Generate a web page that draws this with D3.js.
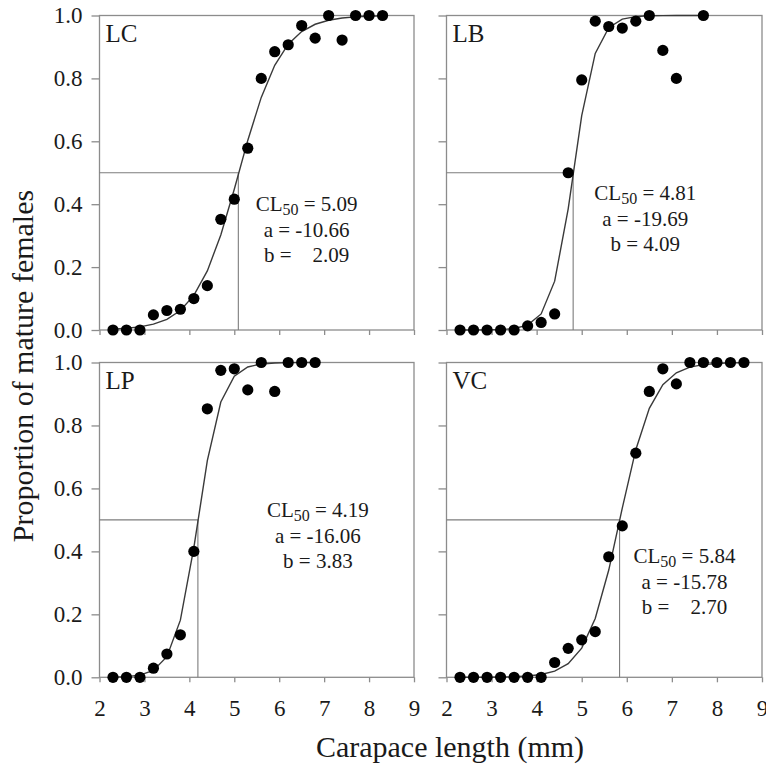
<!DOCTYPE html>
<html lang="en">
<head>
<meta charset="UTF-8">
<title>maturity-ogives</title>
<style>
    body {
        margin: 0;
        background: #fff;
    }
</style>
<script src="https://d3js.org/d3.v7.min.js"></script>
</head>
<body>
<script>

    // values
    let sites = ["LC", "LB", "LP", "VC"];
    let cl50 = [5.09, 4.81, 4.19, 5.84];
    let aVals = [-10.66, -19.69, -16.06, -15.78];
    let bVals = [2.09, 4.09, 3.83, 2.70];
    let bPad = [true, false, false, true];

    let xTicks = [2, 3, 4, 5, 6, 7, 8, 9];
    let yTicks = [0, 0.2, 0.4, 0.6, 0.8, 1.0];

    let lcX = [2.3, 2.6, 2.9, 3.2, 3.5, 3.8, 4.1, 4.4, 4.7, 5.0, 5.3, 5.6, 5.9, 6.2, 6.5, 6.8, 7.1, 7.4, 7.7, 8.0, 8.3];
    let lcY = [0, 0, 0, 0.048, 0.062, 0.066, 0.10, 0.141, 0.352, 0.416, 0.578, 0.80, 0.885, 0.907, 0.968, 0.928, 1.0, 0.922, 1.0, 1.0, 1.0];

    let lbX = [2.3, 2.6, 2.9, 3.2, 3.5, 3.8, 4.1, 4.4, 4.7, 5.0, 5.3, 5.6, 5.9, 6.2, 6.5, 6.8, 7.1, 7.7];
    let lbY = [0, 0, 0, 0, 0, 0.013, 0.024, 0.051, 0.50, 0.795, 0.982, 0.965, 0.96, 0.982, 1.0, 0.889, 0.80, 1.0];

    let lpX = [2.3, 2.6, 2.9, 3.2, 3.5, 3.8, 4.1, 4.4, 4.7, 5.0, 5.3, 5.6, 5.9, 6.2, 6.5, 6.8];
    let lpY = [0, 0, 0, 0.029, 0.074, 0.135, 0.40, 0.853, 0.975, 0.98, 0.913, 1.0, 0.908, 1.0, 1.0, 1.0];

    let vcX = [2.3, 2.6, 2.9, 3.2, 3.5, 3.8, 4.1, 4.4, 4.7, 5.0, 5.3, 5.6, 5.9, 6.2, 6.5, 6.8, 7.1, 7.4, 7.7, 8.0, 8.3, 8.6];
    let vcY = [0, 0, 0, 0, 0, 0, 0, 0.047, 0.092, 0.119, 0.145, 0.383, 0.481, 0.712, 0.908, 0.98, 0.932, 1.0, 1.0, 1.0, 1.0, 1.0];

    let seriesX = [lcX, lbX, lpX, vcX];
    let seriesY = [lcY, lbY, lpY, vcY];

    // layout
    let width = 766;
    let height = 770;
    let cols = [[99.5, 414], [446.5, 762]];
    let rows = [[330, 15.5], [677.3, 362.5]];
    // where the parameter block sits, in data units of each panel
    let annoPos = [[6.61, 0.378], [6.41, 0.413], [6.86, 0.509], [7.28, 0.363]];
    let lineGap = 25.5;

    let serif = "'Times New Roman', 'Liberation Serif', Times, serif";
    let textColor = "#1a1a1a";
    let frameColor = "#8c8c8c";
    let refColor = "#7d7d7d";
    let curveColor = "#3a3a3a";

    let svg = d3.select("body").append("svg")
        .attr("width", width)
        .attr("height", height)
        .style("font-family", serif);

    let logistic = function (a, b) {
        return function (x) { return 1 / (1 + Math.exp(-(a + b * x))); };
    };

    sites.forEach(function (site, i) {
        let col = i % 2;
        let row = Math.floor(i / 2);

        let x = d3.scaleLinear().domain([2, 9]).range(cols[col]);
        let y = d3.scaleLinear().domain([0, 1]).range(rows[row]);

        let g = svg.append("g");

        // x axis
        let xa = g.append("g")
            .attr("transform", "translate(0," + y(0) + ")")
            .call(d3.axisBottom(x)
                .tickValues(xTicks)
                .tickSize(5)
                .tickSizeOuter(0)
                .tickPadding(17)
                .tickFormat(row === 1 ? d3.format("d") : ""));

        // y axis
        let ya = g.append("g")
            .attr("transform", "translate(" + x(2) + ",0)")
            .call(d3.axisLeft(y)
                .tickValues(yTicks)
                .tickSize(8)
                .tickSizeOuter(0)
                .tickPadding(9)
                .tickFormat(col === 0 ? d3.format(".1f") : ""));

        [xa, ya].forEach(function (ax) {
            ax.attr("font-family", null).attr("font-size", null);
            ax.select(".domain").remove();
            ax.selectAll("line").attr("stroke", frameColor).attr("stroke-width", 1.3);
            ax.selectAll("text")
                .attr("fill", textColor)
                .style("font-family", serif)
                .style("font-size", "23px");
        });

        // frame
        g.append("rect")
            .attr("x", x(2))
            .attr("y", y(1))
            .attr("width", x(9) - x(2))
            .attr("height", y(0) - y(1))
            .attr("fill", "none")
            .attr("stroke", frameColor)
            .attr("stroke-width", 1.3);

        // CL50 guide lines
        g.append("path")
            .attr("d", d3.line()([[x(2), y(0.5)], [x(cl50[i]), y(0.5)], [x(cl50[i]), y(0)]]))
            .attr("fill", "none")
            .attr("stroke", refColor)
            .attr("stroke-width", 1.1);

        // fitted ogive, evaluated at the observed lengths
        let f = logistic(aVals[i], bVals[i]);
        g.append("path")
            .datum(seriesX[i])
            .attr("d", d3.line()
                .x(function (d) { return x(d); })
                .y(function (d) { return y(f(d)); }))
            .attr("fill", "none")
            .attr("stroke", curveColor)
            .attr("stroke-width", 1.4);

        // observed proportions
        g.selectAll("circle")
            .data(seriesX[i].map(function (d, j) { return [d, seriesY[i][j]]; }))
            .enter()
            .append("circle")
            .attr("cx", function (d) { return x(d[0]); })
            .attr("cy", function (d) { return y(d[1]); })
            .attr("r", 5.6)
            .attr("fill", "#000");

        // site name
        g.append("text")
            .attr("x", x(2) + 6)
            .attr("y", y(1) + 26)
            .attr("fill", textColor)
            .style("font-family", serif)
            .style("font-size", "25px")
            .text(site);

        // parameters
        let ax0 = x(annoPos[i][0]);
        let ay0 = y(annoPos[i][1]);
        let t1 = g.append("text")
            .attr("x", ax0)
            .attr("y", ay0)
            .attr("text-anchor", "middle")
            .attr("fill", textColor)
            .style("font-family", serif)
            .style("font-size", "21px");
        t1.append("tspan").text("CL");
        t1.append("tspan").attr("dy", 4).style("font-size", "16px").text("50");
        t1.append("tspan").attr("dy", -4).text(" = " + cl50[i].toFixed(2));

        g.append("text")
            .attr("x", ax0)
            .attr("y", ay0 + lineGap)
            .attr("text-anchor", "middle")
            .attr("fill", textColor)
            .style("font-family", serif)
            .style("font-size", "21px")
            .text("a = " + aVals[i].toFixed(2));

        g.append("text")
            .attr("x", ax0)
            .attr("y", ay0 + lineGap * 2)
            .attr("text-anchor", "middle")
            .attr("fill", textColor)
            .style("font-family", serif)
            .style("font-size", "21px")
            .text("b = " + (bPad[i] ? "\u00a0\u00a0 " : "") + bVals[i].toFixed(2));
    });

    // axis titles
    svg.append("text")
        .attr("transform", "translate(33,366) rotate(-90)")
        .attr("text-anchor", "middle")
        .attr("fill", textColor)
        .style("font-family", serif)
        .style("font-size", "30px")
        .text("Proportion of mature females");

    svg.append("text")
        .attr("x", 450)
        .attr("y", 757)
        .attr("text-anchor", "middle")
        .attr("fill", textColor)
        .style("font-family", serif)
        .style("font-size", "30px")
        .text("Carapace length (mm)");

</script>
</body>
</html>
